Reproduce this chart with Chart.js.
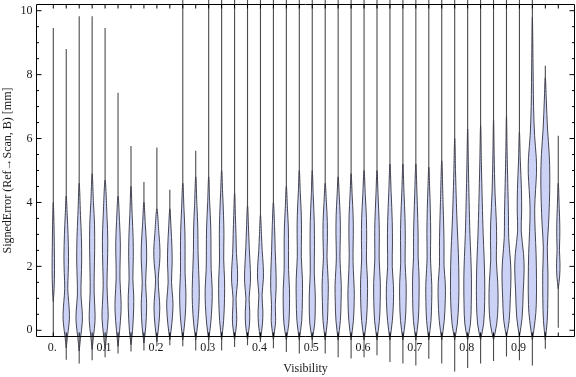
<!DOCTYPE html>
<html><head><meta charset="utf-8">
<script src="https://cdn.jsdelivr.net/npm/chart.js@4/dist/chart.umd.min.js"></script>
<style>html,body{margin:0;padding:0;background:#fff;}canvas{display:block;}</style>
</head><body>
<canvas id="c" width="576" height="377"></canvas>
<script>
// ---- data ----
const visibility = [0,0.025,0.05,0.075,0.1,0.125,0.15,0.175,0.2,0.225,0.25,0.275,0.3,0.325,0.35,0.375,0.4,0.425,0.45,0.475,0.5,0.525,0.55,0.575,0.6,0.625,0.65,0.675,0.7,0.725,0.75,0.775,0.8,0.825,0.85,0.875,0.9,0.925,0.95,0.975];
const errorMin = [-0.18,-0.92,-1.04,-0.94,-0.84,-0.73,-0.66,-0.63,-0.5,-0.47,-0.5,-0.63,-0.63,-0.63,-0.52,-0.47,-0.37,-0.56,-0.68,-0.73,-0.56,-0.73,-0.84,-0.88,-0.84,-0.78,-0.99,-1.04,-1.1,-0.89,-1.04,-1.29,-1.18,-1.04,-0.96,-0.82,-0.94,-1.1,-0.58,0.08];
const errorMax = [9.46,8.8,9.83,9.83,9.46,7.43,5.77,4.64,5.72,4.4,10.7,5.62,10.7,10.7,10.7,10.7,10.7,10.7,10.7,10.7,10.7,10.7,10.7,10.7,10.7,10.7,10.7,10.7,10.7,10.7,10.7,10.7,10.7,10.7,10.7,10.7,10.7,10.7,8.28,6.09];
// each violin: [signed error, density] knots
const densityProfiles = [
 [[0.9,0],[1.3,0.8],[1.9,1.2],[2.6,1.0],[3.3,0.7],[4.0,0]],
 [[-0.55,0],[-0.2,1.2],[0.2,2.8],[0.5,3.2],[0.9,2.4],[1.3,1.5],[1.8,2.0],[2.3,2.3],[3.0,1.8],[3.6,1.0],[4.2,0]],
 [[-0.65,0],[-0.25,1.3],[0.25,3.1],[0.6,3.0],[1.1,1.8],[1.6,2.0],[2.2,2.5],[2.9,2.2],[3.6,1.3],[4.6,0]],
 [[-0.6,0],[-0.2,1.3],[0.3,2.9],[0.7,2.7],[1.2,2.0],[1.8,2.1],[2.5,2.5],[3.3,2.4],[4.0,1.3],[4.9,0]],
 [[-0.6,0],[-0.2,1.4],[0.4,3.1],[0.8,2.7],[1.4,1.9],[2.0,2.3],[2.8,2.7],[3.5,2.0],[4.7,0]],
 [[-0.5,0],[0.0,1.6],[0.6,3.0],[1.0,2.9],[1.6,1.9],[2.2,2.1],[2.7,2.3],[3.4,1.5],[4.2,0]],
 [[-0.45,0],[0.0,1.6],[0.7,2.7],[1.1,2.7],[1.6,1.9],[2.3,2.3],[2.9,2.1],[3.6,1.2],[4.5,0]],
 [[-0.4,0],[0.1,1.8],[0.7,2.7],[1.0,2.5],[1.5,1.7],[2.2,2.7],[2.7,2.5],[3.3,1.4],[4.0,0]],
 [[-0.35,0],[0.2,2.0],[0.7,2.9],[1.1,2.2],[1.6,1.3],[2.1,2.7],[2.5,3.1],[3.0,2.1],[3.8,0]],
 [[-0.3,0],[0.2,2.0],[0.7,3.1],[1.0,2.9],[1.5,1.7],[2.1,2.3],[2.6,2.1],[3.2,1.2],[3.8,0]],
 [[-0.3,0],[0.2,1.8],[0.7,2.9],[1.2,3.1],[1.8,2.3],[2.5,2.3],[3.1,2.1],[3.8,1.2],[4.6,0]],
 [[-0.3,0],[0.2,2.0],[0.8,3.3],[1.3,3.5],[1.9,2.9],[2.5,2.3],[3.2,2.1],[3.9,1.2],[4.8,0]],
 [[-0.3,0],[0.2,2.0],[0.8,3.3],[1.3,3.5],[1.9,2.5],[2.5,2.3],[3.2,2.1],[4.0,1.0],[4.8,0]],
 [[-0.3,0],[0.3,2.0],[1.0,2.9],[1.6,2.9],[2.2,2.1],[3.0,2.3],[3.6,1.9],[4.3,1.0],[5.0,0]],
 [[-0.3,0],[0.2,2.0],[0.5,2.1],[1.0,1.5],[1.5,2.9],[1.9,2.9],[2.4,1.9],[3.0,1.4],[3.6,0.8],[4.3,0]],
 [[-0.3,0],[0.2,2.0],[0.6,2.2],[1.0,1.6],[1.5,2.9],[1.9,2.8],[2.6,1.7],[3.2,1.0],[3.9,0]],
 [[-0.3,0],[0.2,2.0],[0.6,2.4],[1.1,1.6],[1.6,2.9],[2.0,2.8],[2.5,1.7],[3.0,1.0],[3.6,0]],
 [[-0.3,0],[0.2,2.0],[0.4,2.2],[0.8,1.9],[1.3,2.7],[1.8,2.6],[2.5,1.8],[3.2,1.2],[4.0,0]],
 [[-0.3,0],[0.2,2.4],[0.7,3.1],[1.3,3.1],[1.9,2.2],[2.5,2.2],[3.2,2.0],[3.8,1.1],[4.5,0]],
 [[-0.3,0],[0.3,2.4],[1.0,3.1],[1.6,3.1],[2.3,2.0],[3.0,2.2],[3.6,2.0],[4.3,1.0],[5.0,0]],
 [[-0.3,0],[0.2,2.4],[0.7,3.0],[1.2,2.9],[1.8,2.0],[2.6,2.2],[3.4,2.0],[4.2,1.0],[5.0,0]],
 [[-0.3,0],[0.3,2.2],[0.9,2.8],[1.4,3.1],[1.9,2.4],[2.3,1.8],[2.9,2.2],[3.4,2.1],[4.0,1.2],[4.6,0]],
 [[-0.3,0],[0.3,2.2],[0.9,2.9],[1.4,3.1],[1.9,2.3],[2.3,1.8],[3.0,2.2],[3.6,2.0],[4.2,1.1],[4.8,0]],
 [[-0.3,0],[0.3,2.3],[0.9,3.1],[1.3,3.1],[1.9,2.2],[2.4,1.9],[3.0,2.2],[3.6,2.0],[4.2,1.1],[4.9,0]],
 [[-0.3,0],[0.3,2.4],[1.0,3.4],[1.6,3.4],[2.2,2.4],[2.8,2.6],[3.5,2.4],[4.2,1.3],[5.0,0]],
 [[-0.3,0],[0.3,2.4],[0.9,3.2],[1.5,3.3],[2.2,2.2],[2.9,2.3],[3.4,2.1],[4.2,1.1],[5.0,0]],
 [[-0.3,0],[0.3,2.4],[0.9,3.5],[1.4,3.5],[2.0,2.3],[2.7,2.5],[3.4,2.3],[4.3,1.2],[5.2,0]],
 [[-0.3,0],[0.3,2.4],[0.9,3.2],[1.5,3.2],[2.1,2.2],[2.8,2.4],[3.5,2.1],[4.3,1.1],[5.2,0]],
 [[-0.3,0],[0.3,2.4],[1.0,3.2],[1.7,3.2],[2.3,2.3],[2.9,2.3],[3.5,1.9],[4.3,1.1],[5.2,0]],
 [[-0.3,0],[0.3,2.2],[0.9,2.9],[1.4,3.0],[1.9,2.2],[2.3,1.7],[3.0,1.9],[3.8,1.5],[4.5,0.8],[5.1,0]],
 [[-0.3,0],[0.3,2.5],[1.0,3.6],[1.5,3.5],[2.0,2.3],[2.6,2.3],[3.2,2.0],[4.0,1.3],[5.3,0]],
 [[-0.3,0],[0.2,2.6],[0.9,4.0],[1.6,4.2],[2.4,3.7],[3.2,2.6],[4.0,1.7],[5.0,0.8],[6.0,0]],
 [[-0.3,0],[0.2,2.8],[0.8,3.6],[1.6,3.8],[2.3,3.2],[3.0,2.3],[4.0,1.5],[5.2,0.7],[6.3,0]],
 [[-0.3,0],[0.2,3.0],[0.9,4.1],[1.6,4.1],[2.3,3.5],[3.0,2.6],[4.0,1.7],[5.2,0.8],[6.4,0]],
 [[-0.3,0],[0.2,3.2],[0.8,4.5],[1.5,4.2],[2.2,2.8],[2.8,3.1],[3.4,2.8],[4.3,1.5],[5.5,0.6],[6.6,0]],
 [[-0.2,0],[0.3,2.7],[1.0,3.8],[1.7,4.5],[2.2,3.9],[2.9,2.2],[3.6,2.0],[4.6,1.3],[5.6,0.6],[6.7,0]],
 [[-0.2,0],[0.4,2.7],[1.2,3.8],[1.9,4.7],[2.4,4.1],[3.1,1.8],[3.7,2.2],[4.4,2.0],[5.3,0.9],[6.2,0]],
 [[-0.3,0],[0.3,2.7],[0.8,3.9],[1.6,4.1],[2.4,3.7],[3.1,2.8],[3.8,2.3],[4.4,3.2],[4.9,4.1],[5.4,3.9],[6.1,2.2],[7.0,1.2],[8.5,0.6],[9.8,0]],
 [[-0.3,0],[0.3,1.9],[1.0,2.5],[1.8,2.6],[2.6,2.0],[3.3,3.2],[4.0,4.1],[4.8,4.5],[5.5,3.9],[6.3,2.2],[7.2,1.0],[7.9,0]],
 [[1.3,0],[1.7,1.4],[2.1,1.7],[2.5,1.2],[2.9,1.5],[3.3,1.5],[3.8,1.0],[4.6,0]]
];
const xTickValues = [0,0.1,0.2,0.3,0.4,0.5,0.6,0.7,0.8,0.9];
const xTickLabels = ["0.","0.1","0.2","0.3","0.4","0.5","0.6","0.7","0.8","0.9"];
const yTickValues = [0,2,4,6,8,10];
const yTickLabels = ["0","2","4","6","8","10"];
const xTitle = "Visibility";
const yTitle = "SignedError (Ref\u2192Scan, B) [mm]";

// ---- styles ----
const HALF_WIDTH = 1/518;          // x-units per density unit
const FILL = 'rgb(203,210,245)';
const EDGE = 'rgba(60,60,72,0.95)';
const LINE = 'rgba(55,55,55,0.9)';
const FONT = '12px "Liberation Serif", "DejaVu Serif", serif';

const datasets = [];
visibility.forEach((v, i) => {
  const prof = densityProfiles[i];
  const right = prof.map(([e, d]) => ({x: v + d * HALF_WIDTH, y: e}));
  const left = prof.slice(0, -1).reverse().map(([e, d]) => ({x: v - d * HALF_WIDTH, y: e}));
  datasets.push({
    data: right.concat(left), showLine: true, fill: 'shape',
    backgroundColor: FILL, borderColor: EDGE, borderWidth: 1,
    pointRadius: 0, tension: 0.35, capBezierPoints: false, order: 0, clip: false
  });
  datasets.push({
    data: [{x: v, y: errorMin[i]}, {x: v, y: errorMax[i]}], showLine: true, fill: false,
    borderColor: LINE, borderWidth: 1.1, pointRadius: 0, order: 1, clip: false
  });
});

const framePlugin = {
  id: 'frame',
  afterDraw(chart) {
    const {ctx, chartArea: a, scales: {x, y}} = chart;
    ctx.save();
    ctx.strokeStyle = '#000';
    ctx.lineWidth = 1;
    const L = Math.round(a.left) + 0.5, R = Math.round(a.right) - 0.5;
    const T = Math.round(a.top) + 0.5, B = Math.round(a.bottom) - 0.5;
    ctx.beginPath();
    ctx.rect(L, T, R - L, B - T);
    visibility.forEach(v => {
      const px = x.getPixelForValue(v);
      ctx.moveTo(px, B); ctx.lineTo(px, B - 4);
      ctx.moveTo(px, T); ctx.lineTo(px, T + 4);
    });
    for (let k = 0; k <= 20; k++) {
      const v = k * 0.5;
      const py = y.getPixelForValue(v);
      const len = (k % 4 === 0) ? 5 : 2.5;
      ctx.moveTo(L, py); ctx.lineTo(L + len, py);
      ctx.moveTo(R, py); ctx.lineTo(R - len, py);
    }
    ctx.stroke();
    ctx.fillStyle = '#1a1a1a';
    ctx.font = FONT;
    ctx.textAlign = 'center';
    ctx.textBaseline = 'middle';
    xTickValues.forEach((v, i) => {
      ctx.fillText(xTickLabels[i], x.getPixelForValue(v) - 1, B + 11);
    });
    ctx.textAlign = 'right';
    yTickValues.forEach((v, i) => {
      ctx.fillText(yTickLabels[i], L - 4, y.getPixelForValue(v));
    });
    ctx.textAlign = 'center';
    ctx.fillText(xTitle, (a.left + a.right) / 2, 369);
    ctx.translate(8, (a.top + a.bottom) / 2);
    ctx.rotate(-Math.PI / 2);
    ctx.fillText(yTitle, 0, 0);
    ctx.restore();
  }
};

new Chart(document.getElementById('c'), {
  type: 'scatter',
  data: {datasets},
  options: {
    responsive: false, animation: false, devicePixelRatio: 1,
    layout: {padding: {left: 36, right: 1, top: 4, bottom: 40}},
    scales: {
      x: {type: 'linear', min: -0.0334, max: 1.0073, display: false},
      y: {type: 'linear', min: -0.21, max: 10.21, display: false}
    },
    plugins: {legend: {display: false}, tooltip: {enabled: false}}
  },
  plugins: [framePlugin]
});
</script>
</body></html>
